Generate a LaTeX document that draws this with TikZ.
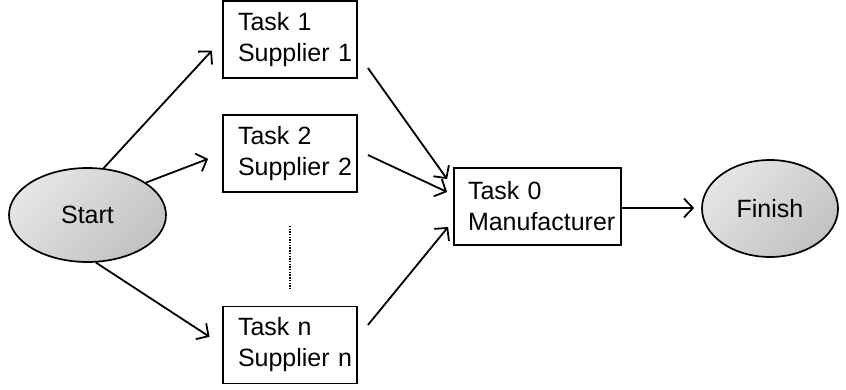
\documentclass[tikz,border=0pt]{standalone}
\usepackage{fontspec}
\setmainfont{Liberation Sans}
\usetikzlibrary{shapes.geometric,arrows.meta,calc}

\begin{document}
\begin{tikzpicture}[x=1pt,y=-1pt,
  font=\fontsize{25}{31}\selectfont,
  taskbox/.style={draw, line width=1.8pt, minimum height=77pt,
    inner xsep=15pt, inner ysep=0pt, align=left, text width=#1},
  taskbox/.default=104pt,
  terminal/.style={ellipse, draw, line width=1.7pt, inner sep=0pt,
    top color=black!10, bottom color=black!24, shading angle=45},
  flow/.style={line width=1.8pt, -{Straight Barb[length=9pt,width=19pt,line width=1.8pt]}}
]
\useasboundingbox (0,0) rectangle (846,390);

% stages of the process
\node[terminal, minimum width=157pt, minimum height=94pt] (start) at (87.5,215) {Start};
\node[taskbox] (t1) at (290,39.5) {Task 1\\Supplier~1};
\node[taskbox] (t2) at (290,153.5) {Task 2\\Supplier~2};
\node[taskbox] (tn) at (290,345) {Task n\\Supplier~n};
\node[taskbox=139pt, inner xsep=14pt] (t0) at (537.5,206.5) {Task 0\\Manufacturer};
\node[terminal, minimum width=136pt, minimum height=97pt] (finish) at (770,208.5) {Finish};

% elided suppliers
\draw[line width=1.5pt, dash pattern=on 1.4pt off 1.3pt] ($(t2.south)+(0,33)$) -- ($(tn.north)+(0,-17)$);

% supplier branches
\draw[flow, shorten >=15pt] (start.71) -- (t1.west);
\draw[flow, shorten >=15pt] (start.29) -- (t2.west);
\draw[flow, shorten >=15pt] (start.-80) -- (tn.west);

% merge into the manufacturer
\draw[flow] ($(t1.east)+(10,28.5)$) -- ($(t0.north west)+(-6,12)$);
\draw[flow] ($(t2.east)+(10,1.5)$) -- ($(t0.west)+(-6,-14.5)$);
\draw[flow] ($(tn.east)+(10,-20)$) -- ($(t0.west)+(-5,20.5)$);

% final step
\draw[flow, shorten >=7pt] ($(t0.east)+(0,1.5)$) -- ($(finish.west)+(0,-0.5)$);
\end{tikzpicture}
\end{document}
